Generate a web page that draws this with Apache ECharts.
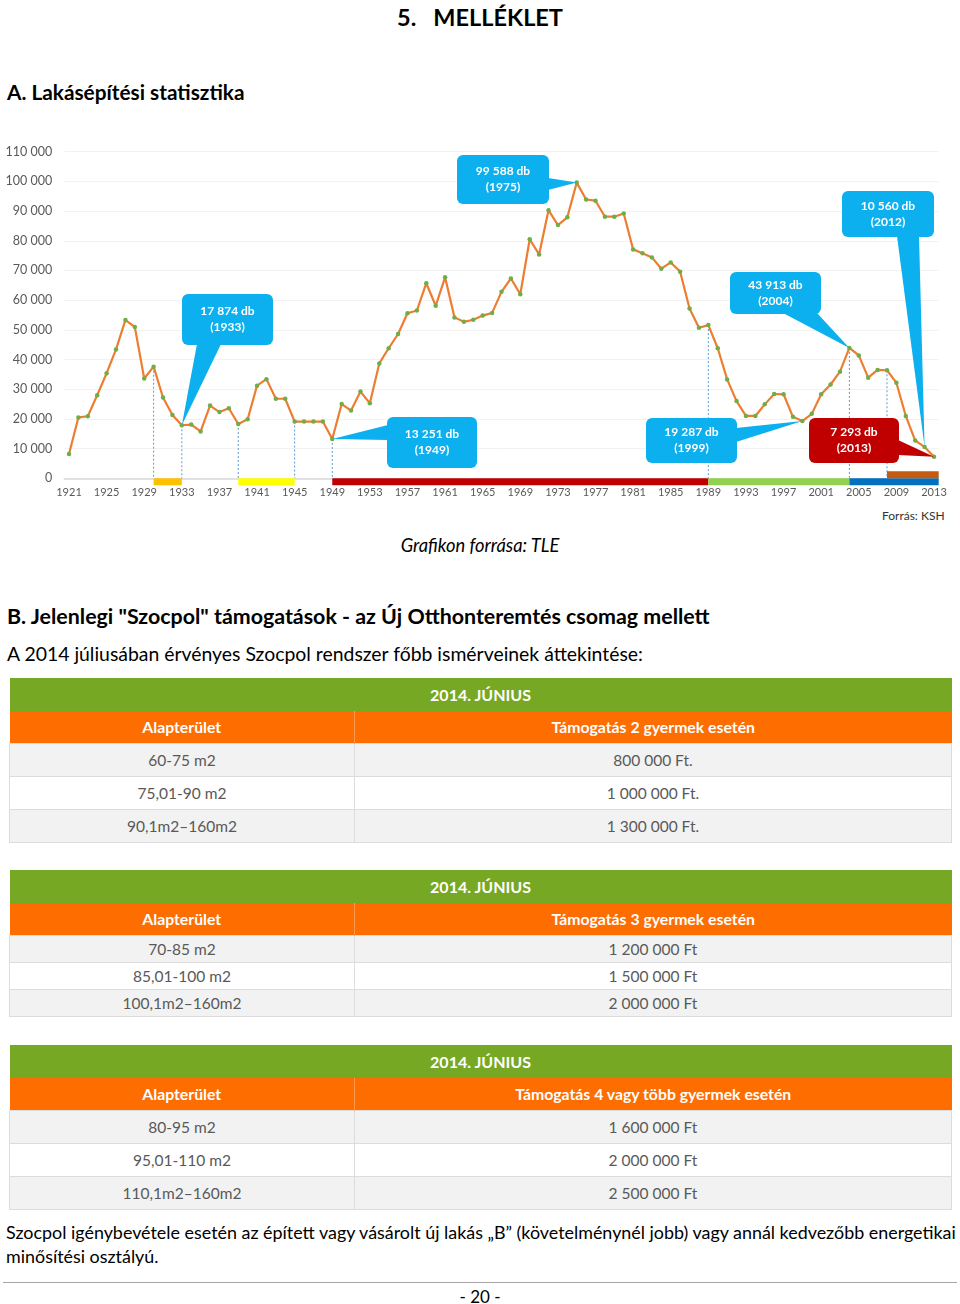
<!DOCTYPE html>
<html><head><meta charset="utf-8">
<script src="https://cdn.jsdelivr.net/npm/echarts@6/dist/echarts.min.js"></script>
<style>
html,body{margin:0;padding:0;background:#fff;}
body{width:960px;height:1304px;position:relative;overflow:hidden;font-family:Lato,'Open Sans',sans-serif;color:#000;}
.t{position:absolute;white-space:nowrap;}
table.tb{position:absolute;left:9px;width:942px;border-collapse:collapse;table-layout:fixed;font-family:Lato,sans-serif;}
table.tb td{padding:0;text-align:center;font-size:15.5px;}
table.tb td.g{background:#77a823;color:#fff;font-weight:bold;font-size:16px;}
table.tb td.o{background:#fe6d00;color:#fff;font-weight:bold;font-size:15.8px;border-left:1px solid #ff9a50;}
table.tb td.b{color:#595959;border:1px solid #dcdcdc;}
</style></head>
<body>
<div class="t" style="top:2px;left:0;width:960px;text-align:center;font-weight:bold;font-size:23.5px;line-height:30px;">5.&nbsp;&nbsp;&nbsp;MELLÉKLET</div>
<div class="t" style="top:78px;left:7px;font-weight:bold;font-size:20.8px;line-height:28px;">A. Lakásépítési statisztika</div>
<div id="chart" style="position:absolute;left:0;top:140px;width:960px;height:365px;"></div>
<div class="t" style="top:507px;left:882px;font-size:12px;line-height:18px;color:#333;">Forrás: KSH</div>
<div class="t" style="top:532px;left:0;width:960px;text-align:center;font-style:italic;font-size:18.3px;line-height:26px;">Grafikon forrása: TLE</div>
<div class="t" style="top:602px;left:7px;font-weight:bold;font-size:21.4px;line-height:28px;">B. Jelenlegi "Szocpol" támogatások - az Új Otthonteremtés csomag mellett</div>
<div class="t" style="top:641px;left:7px;font-size:19.4px;line-height:26px;">A 2014 júliusában érvényes Szocpol rendszer főbb ismérveinek áttekintése:</div>
<div id="tables"></div>
<div class="t" style="top:1220px;left:6px;font-size:17.9px;line-height:25px;">Szocpol igénybevétele esetén az épített vagy vásárolt új lakás „B” (követelménynél jobb) vagy annál kedvezőbb energetikai</div>
<div class="t" style="top:1244px;left:6px;font-size:17.9px;line-height:25px;">minősítési osztályú.</div>
<div style="position:absolute;top:1282px;left:3px;width:954px;height:1px;background:#a6a6a6;"></div>
<div class="t" style="top:1285px;left:0;width:960px;text-align:center;font-size:17px;line-height:24px;">- 20 -</div>

<script>
// ---------- chart data ----------
const years = ['1921','1922','1923','1924','1925','1926','1927','1928','1929','1930',
 '1931','1932','1933','1934','1935','1936','1937','1938','1939','1940',
 '1941','1942','1943','1944','1945','1946','1947','1948','1949','1950',
 '1951','1952','1953','1954','1955','1956','1957','1958','1959','1960',
 '1961','1962','1963','1964','1965','1966','1967','1968','1969','1970',
 '1971','1972','1973','1974','1975','1976','1977','1978','1979','1980',
 '1981','1982','1983','1984','1985','1986','1987','1988','1989','1990',
 '1991','1992','1993','1994','1995','1996','1997','1998','1999','2000',
 '2001','2002','2003','2004','2005','2006','2007','2008','2009','2010',
 '2011','2012','2013'];
const dwellings = [8200,20500,20900,28000,35400,43400,53300,51000,33600,37600,
 27200,21300,17874,18100,15800,24500,22300,23600,18300,19900,
 31200,33400,26800,26800,19100,19100,19100,19100,13251,25000,
 22800,29200,25300,38700,43800,48600,55600,56500,65700,58100,
 67700,54200,52700,53400,54800,55700,62800,67300,62000,80500,
 75400,90300,85300,87900,99588,93900,93500,88100,88100,89200,
 77100,75800,74400,70600,72700,69600,57200,50700,51600,43800,
 33300,26000,21000,21000,24900,28400,28300,20700,19287,21700,
 28300,31600,35900,43913,41400,33900,36500,36400,32200,21000,
 12700,10560,7293];
const yTicks = [0,10000,20000,30000,40000,50000,60000,70000,80000,90000,100000,110000];
const markerYears = [1930,1933,1939,1945,1949,1989,2004,2008];
const periodStart = [1930,1939,1949,1989,2004,2008];
const periodEnd   = [1933,1945,1989,2004,2013.5,2013.5];
const calloutYears = [1933,1949,1975,1999,2004,2012,2013];

// ---------- table data ----------
const tableTitle = '2014. JÚNIUS';
const colArea = 'Alapterület';
const tableHeads = ['Támogatás 2 gyermek esetén','Támogatás 3 gyermek esetén','Támogatás 4 vagy több gyermek esetén'];
const areas = [['60-75 m2','75,01-90 m2','90,1m2–160m2'],['70-85 m2','85,01-100 m2','100,1m2–160m2'],['80-95 m2','95,01-110 m2','110,1m2–160m2']];
const amounts = [['800 000 Ft.','1 000 000 Ft.','1 300 000 Ft.'],['1 200 000 Ft','1 500 000 Ft','2 000 000 Ft'],['1 600 000 Ft','2 000 000 Ft','2 500 000 Ft']];

// ---------- styles / layout (not data) ----------
const periodColors = ['#ffc000','#ffff00','#c00000','#92d050','#0070c0','#c55a11'];
const periodRow = [0,0,0,0,0,-1];
const calloutColors = ['#0cb0ee','#0cb0ee','#0cb0ee','#0cb0ee','#0cb0ee','#0cb0ee','#c00000'];
const calloutBoxes = [[182,154,91,51],[387,277,90,51],[457,15,92,49],[646,278,91,45],[730,132,91,42],[842,51,92,46],[809,278,90,45]];
const calloutBases = [[[197,204],[221,204]],[[388,285],[388,300]],[[548,38],[548,50]],[[736,288],[736,302]],[[783,173],[817,173]],[[897,96],[919,96]],[[898,300],[898,315]]];
const tableTops = [678,870,1045];
const bodyRowH = [33,27,33];

function fmt(v){return String(v).replace(/\B(?=(\d{3})+(?!\d))/g,' ');}
function valOf(y){return dwellings[years.indexOf(String(y))];}

// ---------- tables ----------
let html='';
for(let t=0;t<3;t++){
  html+=`<table class="tb" style="top:${tableTops[t]}px"><colgroup><col style="width:345px"><col style="width:597px"></colgroup>`;
  html+=`<tr style="height:33px"><td class="g" colspan="2">${tableTitle}</td></tr>`;
  html+=`<tr style="height:32px"><td class="o" style="border-left:none">${colArea}</td><td class="o">${tableHeads[t]}</td></tr>`;
  for(let r=0;r<3;r++){
    const bg = r===1?'#ffffff':'#f2f2f2';
    html+=`<tr style="height:${bodyRowH[t]}px;background:${bg}"><td class="b">${areas[t][r]}</td><td class="b">${amounts[t][r]}</td></tr>`;
  }
  html+='</table>';
}
document.getElementById('tables').innerHTML=html;

// ---------- chart ----------
const chart = echarts.init(document.getElementById('chart'),null,{renderer:'canvas'});
chart.setOption({
  animation:false,
  grid:{left:64.3,right:21.3,top:11.7,bottom:26.7},
  xAxis:[
    {type:'category',data:years,boundaryGap:true,
     axisLine:{lineStyle:{color:'#d9d9d9',width:1.5}},axisTick:{show:false},
     axisLabel:{interval:3,color:'#595959',fontSize:11,fontFamily:'Lato',margin:9},
     splitLine:{show:false}},
    {type:'value',min:1920.5,max:2013.5,show:false}
  ],
  yAxis:{type:'value',min:yTicks[0],max:yTicks[yTicks.length-1],interval:10000,
    axisLine:{show:false},axisTick:{show:false},
    axisLabel:{color:'#595959',fontSize:12.5,fontFamily:'Lato',margin:12,formatter:v=>fmt(v)},
    splitLine:{lineStyle:{color:'#f2f2f2',width:1}}},
  series:[
    {type:'custom',xAxisIndex:1,z:2,
     data:markerYears.map(y=>[y,valOf(y)]),
     renderItem:(p,api)=>{
       const a=api.coord([api.value(0),api.value(1)]);
       const b=api.coord([api.value(0),0]);
       return {type:'line',shape:{x1:a[0],y1:a[1],x2:b[0],y2:b[1]},
         style:{stroke:'#5b9bd5',lineWidth:1,lineDash:[2,2]}};
     }},
    {type:'line',xAxisIndex:0,z:3,data:dwellings,
     lineStyle:{color:'#ed7d31',width:2.2},
     symbol:'circle',symbolSize:4.5,showSymbol:true,
     itemStyle:{color:'#70ad47'}},
    {type:'custom',xAxisIndex:1,z:4,
     data:periodStart.map((s,i)=>[s,periodEnd[i]]),
     renderItem:(p,api)=>{
       const i=p.dataIndex;
       const a=api.coord([api.value(0),0]);
       const b=api.coord([api.value(1),0]);
       return {type:'rect',shape:{x:a[0],y:a[1]+periodRow[i]*7,width:b[0]-a[0],height:7},
         style:{fill:periodColors[i]}};
     }},
    {type:'custom',xAxisIndex:1,z:5,
     data:calloutYears.map(y=>[y,valOf(y)]),
     renderItem:(p,api)=>{
       const i=p.dataIndex;
       const tip=api.coord([api.value(0),api.value(1)]);
       const bx=calloutBoxes[i], bs=calloutBases[i], c=calloutColors[i];
       return {type:'group',children:[
         {type:'polygon',shape:{points:[tip,bs[0],bs[1]]},style:{fill:c}},
         {type:'rect',shape:{x:bx[0],y:bx[1],width:bx[2],height:bx[3],r:6},style:{fill:c}},
         {type:'text',style:{text:fmt(api.value(1))+' db\n('+api.value(0)+')',
           x:bx[0]+bx[2]/2,y:bx[1]+bx[3]/2,align:'center',verticalAlign:'middle',
           fill:'#fff',font:'bold 12px Lato',lineHeight:16}}
       ]};
     }}
  ]
});
</script>
</body></html>
